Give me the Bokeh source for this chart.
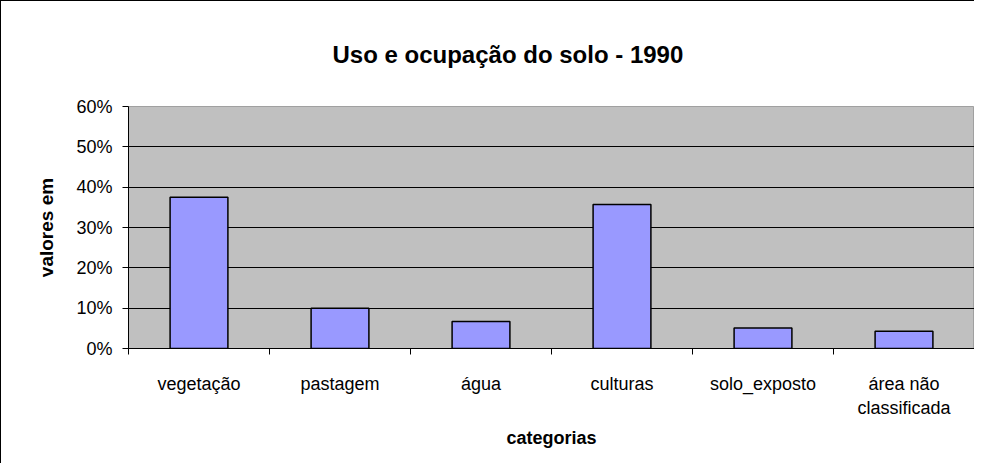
from bokeh.plotting import figure
from bokeh.models import (ColumnDataSource, Range1d, FixedTicker, NumeralTickFormatter, Title)
from bokeh.embed import file_html
from bokeh.resources import INLINE

categories = ["vegetação", "pastagem", "água", "culturas", "solo_exposto", "área não\nclassificada"]
values = [0.375, 0.100, 0.067, 0.357, 0.051, 0.043]
y_ticks = [0.0, 0.1, 0.2, 0.3, 0.4, 0.5, 0.6]

title_text = "Uso e ocupação do solo - 1990"
x_title = "categorias"
y_title = "valores em"

FONT = "Liberation Sans"

centers = [i + 0.5 for i in range(len(categories))]
bounds = [i for i in range(len(categories) + 1)]
src = ColumnDataSource(dict(x=centers, top=values, cat=categories))

p = figure(width=974, height=463, output_backend="svg", toolbar_location=None,
           x_range=Range1d(0, len(categories)), y_range=Range1d(0, 0.6),
           min_border_left=128, min_border_right=0, min_border_top=106, min_border_bottom=115,
           background_fill_color="#C0C0C0", border_fill_color="white", border_fill_alpha=0)
p.styles = {"box-shadow": "inset 1px 1px 0 0 black"}
p.outline_line_color = "#A0A0A0"
p.outline_line_width = 1

p.vbar(x="x", top="top", width=0.41, source=src, fill_color="#9999FF",
       line_color="black", line_width=1.5)

# titles
t = Title(text=title_text, align="left", offset=204, text_font=FONT,
          text_font_style="bold", text_font_size="24px", text_color="black",
          standoff=77)
p.add_layout(t, "above")
xt = Title(text=x_title, align="center", text_font=FONT, text_font_style="bold",
           text_font_size="18px", text_color="black", standoff=10)
p.add_layout(xt, "below")

# x axis
p.xaxis.ticker = FixedTicker(ticks=centers, minor_ticks=bounds)
p.xaxis.major_label_overrides = {c: lab for c, lab in zip(centers, categories)}
p.xaxis.major_tick_line_color = None
p.xaxis.minor_tick_line_color = "black"
p.xaxis.minor_tick_out = 6
p.xaxis.minor_tick_in = 0
p.xaxis.axis_line_color = "black"
p.xaxis.major_label_text_font = FONT
p.xaxis.major_label_text_font_size = "18px"
p.xaxis.major_label_text_color = "black"
p.xaxis.major_label_standoff = 19
p.xaxis.axis_label = None
p.xgrid.grid_line_color = None

# y axis
p.yaxis.ticker = FixedTicker(ticks=y_ticks, minor_ticks=[])
p.yaxis.formatter = NumeralTickFormatter(format="0%")
p.yaxis.major_tick_out = 6
p.yaxis.major_tick_in = 0
p.yaxis.major_tick_line_color = "black"
p.yaxis.axis_line_color = "black"
p.yaxis.major_label_text_font = FONT
p.yaxis.major_label_text_font_size = "18px"
p.yaxis.major_label_text_color = "black"
p.yaxis.major_label_standoff = 10
p.yaxis.axis_label = y_title
p.yaxis.axis_label_text_font = FONT
p.yaxis.axis_label_text_font_style = "bold"
p.yaxis.axis_label_text_font_size = "19px"
p.yaxis.axis_label_text_color = "black"
p.yaxis.axis_label_standoff = 16
p.ygrid.grid_line_color = "black"
p.ygrid.grid_line_width = 1
p.ygrid.bounds = (0.0, 0.55)

open("out.html", "w").write(file_html(p, INLINE))
